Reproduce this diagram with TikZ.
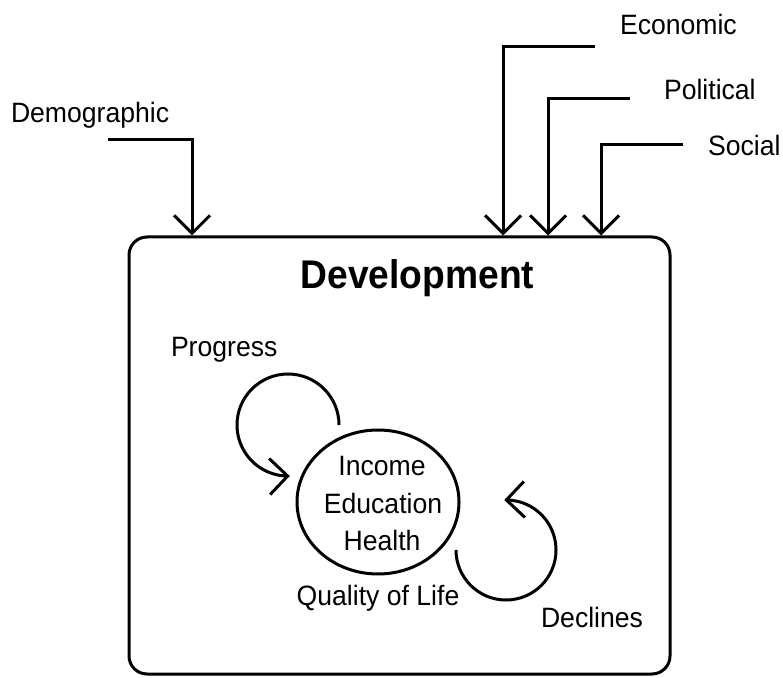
\documentclass[tikz,border=0pt]{standalone}
\usepackage{fontspec}
\setmainfont{Liberation Sans}[FakeStretch=0.95]
\newfontfamily\titlefont{Liberation Sans}[FakeStretch=0.93]
\usetikzlibrary{arrows.meta,shapes.geometric,bending}
\begin{document}
\begin{tikzpicture}[x=1pt,y=1pt,
  line width=3pt,
  txt/.style={font=\fontsize{28}{33}\selectfont, inner sep=0pt, outer sep=0pt},
  title/.style={font=\titlefont\fontsize{40}{46}\selectfont\bfseries, inner sep=0pt},
  barb/.style={-{Straight Barb[length=18pt,width=36pt,line width=3pt]}},
]
\useasboundingbox (0,0) rectangle (783,677);

% main frame
\node[draw, rounded corners=18pt, minimum width=541pt, minimum height=437pt,
      inner sep=0pt] (box) at (399.5,221.5) {};
\node[title, anchor=base] (dev) at (417.5,388) {Development};

% outside influences
\node[txt, anchor=base west] (demo) at (11,554) {Demographic};
\node[txt, anchor=base west] (econ) at (620,642) {Economic};
\node[txt, anchor=base west] (poli) at (664,577) {Political};
\node[txt, anchor=base west] (soc)  at (708,521) {Social};

\coordinate (demoS) at (108,537);  \coordinate (demoK) at (192,537);
\coordinate (econS) at (595,630);  \coordinate (econK) at (503,630);
\coordinate (poliS) at (630,578);  \coordinate (poliK) at (548,578);
\coordinate (socS)  at (683,532);  \coordinate (socK)  at (601,532);

\draw[barb] (demoS) -- (demoK) -- (demoK |- box.north);
\draw[barb] (econS) -- (econK) -- (econK |- box.north);
\draw[barb] (poliS) -- (poliK) -- (poliK |- box.north);
\draw[barb] (socS)  -- (socK)  -- (socK  |- box.north);

% quality of life core
\node[draw, ellipse, minimum width=162pt, minimum height=144pt, inner sep=0pt]
  (core) at (378,175) {};
\node[txt, anchor=base] (inc) at (382,201) {Income};
\node[txt, anchor=base] (edu) at (383,164) {Education};
\node[txt, anchor=base] (hea) at (382,127) {Health};
\node[txt, anchor=base] (qol) at (378,72) {Quality of Life};

% feedback loops
\node[txt, anchor=base west] (prog) at (171,320) {Progress};
\node[txt, anchor=base west] (decl) at (541,50) {Declines};

\coordinate (progS) at (339,252);
\draw[barb] (progS) arc[start angle=0, end angle=272, radius=51];
\coordinate (declS) at (456,127);
\draw[barb] (declS) arc[start angle=180, end angle=452, radius=50];
\end{tikzpicture}
\end{document}
